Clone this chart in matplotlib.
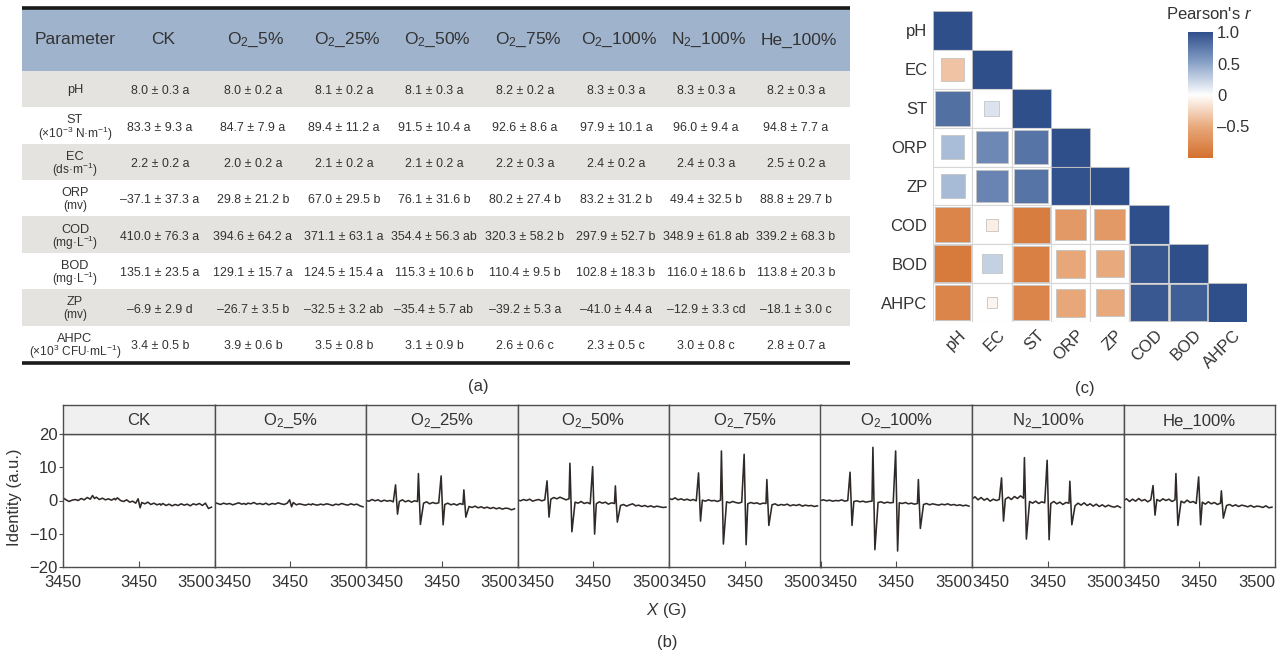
import numpy as np
import matplotlib

matplotlib.use("Agg")
import matplotlib.pyplot as plt
from matplotlib.patches import Rectangle
from matplotlib.colors import LinearSegmentedColormap, Normalize
from matplotlib.cm import ScalarMappable

plt.rcParams["font.family"] = ["Liberation Sans", "DejaVu Sans"]
plt.rcParams["mathtext.fontset"] = "custom"
plt.rcParams["mathtext.rm"] = "Liberation Sans"
plt.rcParams["mathtext.it"] = "Liberation Sans:italic"
plt.rcParams["mathtext.default"] = "regular"

# ---------------- data ----------------
treatments = ["CK", "O$_2$_5%", "O$_2$_25%", "O$_2$_50%", "O$_2$_75%",
              "O$_2$_100%", "N$_2$_100%", "He_100%"]

params = ["pH", "ST", "EC", "ORP", "COD", "BOD", "ZP", "AHPC"]
units = ["", r"(×10$^{-3}$ N·m$^{-1}$)", r"(ds·m$^{-1}$)", "(mv)",
         r"(mg·L$^{-1}$)", r"(mg·L$^{-1}$)", "(mv)", r"(×10$^{3}$ CFU·mL$^{-1}$)"]

row_ph = ["8.0 ± 0.3 a", "8.0 ± 0.2 a", "8.1 ± 0.2 a", "8.1 ± 0.3 a",
          "8.2 ± 0.2 a", "8.3 ± 0.3 a", "8.3 ± 0.3 a", "8.2 ± 0.3 a"]
row_st = ["83.3 ± 9.3 a", "84.7 ± 7.9 a", "89.4 ± 11.2 a", "91.5 ± 10.4 a",
          "92.6 ± 8.6 a", "97.9 ± 10.1 a", "96.0 ± 9.4 a", "94.8 ± 7.7 a"]
row_ec = ["2.2 ± 0.2 a", "2.0 ± 0.2 a", "2.1 ± 0.2 a", "2.1 ± 0.2 a",
          "2.2 ± 0.3 a", "2.4 ± 0.2 a", "2.4 ± 0.3 a", "2.5 ± 0.2 a"]
row_orp = ["–37.1 ± 37.3 a", "29.8 ± 21.2 b", "67.0 ± 29.5 b", "76.1 ± 31.6 b",
           "80.2 ± 27.4 b", "83.2 ± 31.2 b", "49.4 ± 32.5 b", "88.8 ± 29.7 b"]
row_cod = ["410.0 ± 76.3 a", "394.6 ± 64.2 a", "371.1 ± 63.1 a", "354.4 ± 56.3 ab",
           "320.3 ± 58.2 b", "297.9 ± 52.7 b", "348.9 ± 61.8 ab", "339.2 ± 68.3 b"]
row_bod = ["135.1 ± 23.5 a", "129.1 ± 15.7 a", "124.5 ± 15.4 a", "115.3 ± 10.6 b",
           "110.4 ± 9.5 b", "102.8 ± 18.3 b", "116.0 ± 18.6 b", "113.8 ± 20.3 b"]
row_zp = ["–6.9 ± 2.9 d", "–26.7 ± 3.5 b", "–32.5 ± 3.2 ab", "–35.4 ± 5.7 ab",
          "–39.2 ± 5.3 a", "–41.0 ± 4.4 a", "–12.9 ± 3.3 cd", "–18.1 ± 3.0 c"]
row_ahpc = ["3.4 ± 0.5 b", "3.9 ± 0.6 b", "3.5 ± 0.8 b", "3.1 ± 0.9 b",
            "2.6 ± 0.6 c", "2.3 ± 0.5 c", "3.0 ± 0.8 c", "2.8 ± 0.7 a"]
table_rows = [row_ph, row_st, row_ec, row_orp, row_cod, row_bod, row_zp, row_ahpc]

# Pearson's r, lower triangle (row i, columns 0..i)
corr_vars = ["pH", "EC", "ST", "ORP", "ZP", "COD", "BOD", "AHPC"]
corr_lower = [
    [1.0],
    [-0.35, 1.0],
    [0.80, 0.15, 1.0],
    [0.36, 0.66, 0.78, 1.0],
    [0.38, 0.68, 0.78, 0.98, 1.0],
    [-0.82, -0.10, -0.88, -0.64, -0.64, 1.0],
    [-0.90, 0.25, -0.85, -0.52, -0.50, 0.95, 1.0],
    [-0.82, -0.07, -0.82, -0.52, -0.50, 0.94, 0.90, 1.0],
]

# EPR spectra: magnetic field (G) and intensity per treatment
field_G = [3400, 3402, 3404, 3406, 3408, 3410, 3412, 3414, 3416, 3418,
           3419.5, 3420.8,
           3422, 3424, 3426, 3428, 3430, 3432, 3434,
           3434.6, 3435.9,
           3438, 3440, 3442, 3444, 3446, 3448,
           3449.6, 3450.9,
           3452, 3454, 3456, 3458, 3460, 3462, 3464,
           3464.6, 3465.9,
           3468, 3470, 3472, 3474, 3476, 3478, 3480, 3482, 3484, 3486,
           3488, 3490, 3492, 3494, 3496, 3498]

spec_ck = [0.8, 0.2, -0.3, 0.1, 0.3, 0.0, 0.6, 0.2, 0.9, 0.4,
           1.5, 0.6,
           1.0, 0.3, 0.7, 0.2, 0.5, 0.1, 0.6,
           0.2, 0.8,
           0.0, -0.3, 0.2, -0.5, -0.2, -0.8,
           0.5, -2.2,
           -0.6, -1.0, -0.5, -1.2, -0.8, -1.3, -1.0,
           -1.4, -0.9,
           -1.5, -1.1, -1.6, -1.2, -1.5, -1.0, -1.4, -1.1, -1.6, -1.0,
           -1.3, -0.9, -1.5, -0.8, -2.4, -2.0]
spec_o2_5 = [-0.6, -0.9, -1.2, -0.8, -1.1, -0.9, -1.3, -1.0, -0.7, -1.1,
             -0.9, -1.2,
             -0.8, -1.0, -0.6, -1.1, -0.9, -1.2, -0.8,
             -1.0, -1.3,
             -0.9, -1.1, -0.7, -1.0, -1.2, -0.8,
             0.2, -1.9,
             -0.6, -1.3, -1.0, -1.2, -1.4, -1.1, -1.3,
             -1.0, -1.2,
             -1.4, -1.1, -1.3, -1.0, -1.2, -1.5, -1.1, -1.3, -0.9, -1.2,
             -1.4, -1.0, -1.3, -1.1, -1.6, -1.9]
spec_o2_25 = [0.0, -0.2, 0.3, -0.1, 0.2, -0.3, 0.1, -0.2, 0.0, -0.4,
              4.7, -4.1,
              -0.3, 0.2, -0.4, 0.0, -0.5, -0.1, -0.3,
              8.1, -7.2,
              -0.8, -0.4, -1.0, -0.6, -0.9, -0.7,
              7.4, -7.3,
              -1.2, -0.8, -1.3, -1.0, -1.4, -0.9, -1.2,
              3.2, -5.0,
              -1.8, -2.1, -1.7, -2.2, -1.9, -2.3, -2.0, -2.4, -2.1, -2.5,
              -2.2, -2.6, -2.3, -2.4, -2.8, -2.5]
spec_o2_50 = [0.2, -0.1, 0.3, 0.0, 0.4, -0.2, 0.1, 0.3, -0.1, 0.2,
              5.9, -5.0,
              0.4, 0.9, 0.5, 1.0, 0.6, 0.2, 0.5,
              11.2, -9.4,
              -0.5, -0.8, -0.3, -0.9, -0.6, -1.0,
              10.2, -10.1,
              -1.0, -0.4, -0.8, -0.5, -1.1, -0.7, -0.9,
              4.4, -6.5,
              -1.5, -1.2, -1.7, -1.3, -1.0, -1.6, -1.4, -1.8, -1.5, -1.9,
              -1.6, -2.0, -1.7, -1.9, -2.1, -2.0]
spec_o2_75 = [0.6, 0.3, 0.8, 0.2, 0.5, 0.1, 0.4, 0.0, 0.3, -0.1,
              8.3, -6.2,
              0.1, -0.2, 0.2, -0.1, 0.0, -0.3, 0.1,
              14.9, -13.1,
              -0.4, -0.7, -0.3, -0.6, -0.8, -0.5,
              13.9, -13.3,
              -1.0, -0.6, -0.9, -0.7, -1.1, -0.8, -0.9,
              6.3, -7.5,
              -1.3, -1.0, -1.5, -1.2, -1.4, -1.1, -1.6, -1.3, -1.5, -1.2,
              -1.7, -1.4, -1.6, -1.5, -1.8, -1.6]
spec_o2_100 = [0.0, 0.2, -0.1, 0.1, -0.2, 0.0, -0.1, 0.2, -0.2, 0.0,
               8.5, -7.5,
               -0.3, -0.1, -0.4, -0.2, -0.5, -0.3, -0.2,
               16.0, -14.8,
               -0.6, -0.4, -0.8, -0.5, -0.7, -0.6,
               14.9, -15.2,
               -0.7, -0.9, -0.6, -1.0, -0.8, -1.1, -0.9,
               6.3, -8.4,
               -1.2, -0.9, -1.3, -1.0, -1.2, -1.4, -1.1, -1.3, -1.0, -1.4,
               -1.2, -1.5, -1.3, -1.6, -1.4, -1.7]
spec_n2_100 = [0.5, 1.1, 0.2, 0.9, 0.1, 0.6, -0.2, 0.4, 0.0, 0.3,
               6.8, -6.2,
               0.4, 1.0, 0.3, 1.2, 0.6, 1.4, 0.7,
               12.9, -11.6,
               -0.3, -0.8, -0.2, -0.9, -0.4, -0.7,
               12.1, -11.8,
               -0.9, -0.3, -1.0, -0.5, -1.2, -0.6, -0.8,
               5.8, -7.3,
               -1.6, -0.8, -1.4, -0.7, -1.5, -1.0, -1.7, -1.1, -1.8, -1.3,
               -1.9, -1.4, -1.8, -2.0, -1.6, -2.1]
spec_he_100 = [0.0, 0.5, -0.3, 0.4, -0.2, 0.6, -0.1, 0.3, -0.4, 0.2,
               4.5, -4.4,
               0.3, -0.2, 0.5, 0.0, 0.4, -0.3, 0.2,
               8.1, -7.5,
               -0.2, -0.7, 0.1, -0.6, -0.3, -0.9,
               7.1, -7.3,
               -0.5, -1.1, -0.4, -1.0, -0.6, -1.2, -0.8,
               2.9, -5.3,
               -1.5, -1.2, -1.7, -1.3, -1.8, -1.4, -1.6, -1.9, -1.5, -2.0,
               -1.7, -1.8, -2.1, -1.6, -2.2, -2.0]
spectra = [spec_ck, spec_o2_5, spec_o2_25, spec_o2_50, spec_o2_75,
           spec_o2_100, spec_n2_100, spec_he_100]

x_ticks = [3400, 3450, 3500]
x_ticklabels = ["3450", "3450", "3500"]
y_ticks = [-20, -10, 0, 10, 20]

# ---------------- layout helpers ----------------
W, H = 1284, 657
fig = plt.figure(figsize=(W / 100, H / 100), dpi=100)


def box(x0, y0, x1, y1):
    return [x0 / W, 1 - y1 / H, (x1 - x0) / W, (y1 - y0) / H]


TXT = "#333333"
EDGE = "#4d4d4d"

# ---------------- (a) table ----------------
ax_t = fig.add_axes(box(22, 9, 850, 362))
ax_t.set_xlim(22, 850)
ax_t.set_ylim(8, -1.7)
ax_t.axis("off")
col_x = [75, 163, 256, 347, 437, 528, 619, 709, 799]

ax_t.add_patch(Rectangle((22, -1.7), 828, 1.7, fc="#9fb3cc", ec="none"))
for i in range(len(params)):
    if i % 2 == 0:
        ax_t.add_patch(Rectangle((22, i), 828, 1, fc="#e5e3e0", ec="none"))
ax_t.plot([22, 850], [-1.72, -1.72], color="#1a1a1a", lw=2.6, clip_on=False,
          solid_capstyle="butt")
ax_t.plot([22, 850], [8.04, 8.04], color="#1a1a1a", lw=2.6, clip_on=False,
          solid_capstyle="butt")

ax_t.text(col_x[0], -0.85, "Parameter", ha="center", va="center",
          fontsize=12.5, color=TXT)
for x, t in zip(col_x[1:], treatments):
    ax_t.text(x, -0.85, t, ha="center", va="center", fontsize=12.5, color=TXT)

for i, (p, u, row) in enumerate(zip(params, units, table_rows)):
    if u:
        ax_t.text(col_x[0], i + 0.36, p, ha="center", va="center",
                  fontsize=9.2, color=TXT)
        ax_t.text(col_x[0], i + 0.72, u, ha="center", va="center",
                  fontsize=8.6, color=TXT)
    else:
        ax_t.text(col_x[0], i + 0.52, p, ha="center", va="center",
                  fontsize=9.2, color=TXT)
    for x, v in zip(col_x[1:], row):
        ax_t.text(x - 3, i + 0.56, v, ha="center", va="center",
                  fontsize=8.9, color=TXT)

fig.text(478 / W, 1 - 386 / H, "(a)", ha="center", va="center",
         fontsize=12, color=TXT)

# ---------------- (c) correlation ----------------
cmap = LinearSegmentedColormap.from_list(
    "pearson",
    [(0.0, "#d3702e"), (0.25, "#e8a97c"), (0.5, "#ffffff"),
     (0.75, "#8ba4c9"), (1.0, "#2f4f8b")])
norm = Normalize(-1, 1)

ax_c = fig.add_axes(box(933, 11, 1247, 322))
ax_c.set_xlim(0, 8)
ax_c.set_ylim(8, 0)
for s in ax_c.spines.values():
    s.set_visible(False)
for i, row in enumerate(corr_lower):
    for j, r in enumerate(row):
        ax_c.add_patch(Rectangle((j, i), 1, 1, fc="white", ec="#d6d6d6", lw=0.8))
        side = 1.0 if i == j else np.sqrt(abs(r))
        ax_c.add_patch(Rectangle((j + 0.5 - side / 2, i + 0.5 - side / 2),
                                 side, side, fc=cmap(norm(r)),
                                 ec="#c4c4c4", lw=0.6))
ax_c.set_yticks(np.arange(8) + 0.5)
ax_c.set_yticklabels(corr_vars, fontsize=12, color=TXT)
ax_c.set_xticks(np.arange(8) + 0.65)
ax_c.set_xticklabels(corr_vars, fontsize=12, color=TXT, rotation=45,
                     ha="right", rotation_mode="anchor")
ax_c.tick_params(length=0, pad=4)

cax = fig.add_axes(box(1188, 32, 1213, 158))
cb = fig.colorbar(ScalarMappable(norm=norm, cmap=cmap), cax=cax)
cb.outline.set_visible(False)
cb.set_ticks([1.0, 0.5, 0.0, -0.5])
cb.set_ticklabels(["1.0", "0.5", "0", "–0.5"])
cax.tick_params(length=0, labelsize=12, labelcolor=TXT, pad=3)
fig.text(1209 / W, 1 - 14 / H, "Pearson's $\\mathit{r}$", ha="center",
         va="center", fontsize=12, color=TXT)
fig.text(1085 / W, 1 - 388 / H, "(c)", ha="center", va="center",
         fontsize=12, color=TXT)

# ---------------- (b) EPR spectra ----------------
left, right = 63, 1275
fw = (right - left) / len(treatments)
for k, (name, ys) in enumerate(zip(treatments, spectra)):
    x0 = left + k * fw
    ax = fig.add_axes(box(x0, 434, x0 + fw, 567))
    ax.plot(field_G, ys, color="#2f2a28", lw=1.15)
    ax.set_xlim(3400, 3500)
    ax.set_ylim(-20, 20)
    for s in ax.spines.values():
        s.set_color(EDGE)
        s.set_linewidth(1.0)
    ax.set_xticks(x_ticks)
    ax.set_xticklabels(x_ticklabels)
    ax.tick_params(axis="x", direction="in", length=4, color=EDGE,
                   labelsize=12, labelcolor=TXT, pad=6)
    labs = ax.get_xticklabels()
    labs[0].set_ha("center" if k == 0 else "left")
    labs[-1].set_ha("right")
    if k == 0:
        ax.set_yticks(y_ticks)
        ax.set_yticklabels([f"{v}".replace("-", "−") for v in y_ticks])
        ax.tick_params(axis="y", direction="out", length=3, color=EDGE,
                       labelsize=12, labelcolor=TXT, pad=1)
    else:
        ax.set_yticks([])

    st = fig.add_axes(box(x0, 405, x0 + fw, 434))
    st.set_facecolor("#f0f0f0")
    st.set_xticks([])
    st.set_yticks([])
    for s in st.spines.values():
        s.set_color(EDGE)
        s.set_linewidth(1.0)
    st.text(0.5, 0.45, name, transform=st.transAxes, ha="center",
            va="center", fontsize=12, color=TXT)

fig.text(15 / W, 1 - 497 / H, "Identity (a.u.)", rotation=90, ha="center",
         va="center", fontsize=12, color=TXT)
fig.text(667 / W, 1 - 610 / H, "$\\mathit{X}$ (G)", ha="center", va="center",
         fontsize=12, color=TXT)
fig.text(667 / W, 1 - 642 / H, "(b)", ha="center", va="center",
         fontsize=12, color=TXT)

fig.savefig("out.png", dpi=100)
